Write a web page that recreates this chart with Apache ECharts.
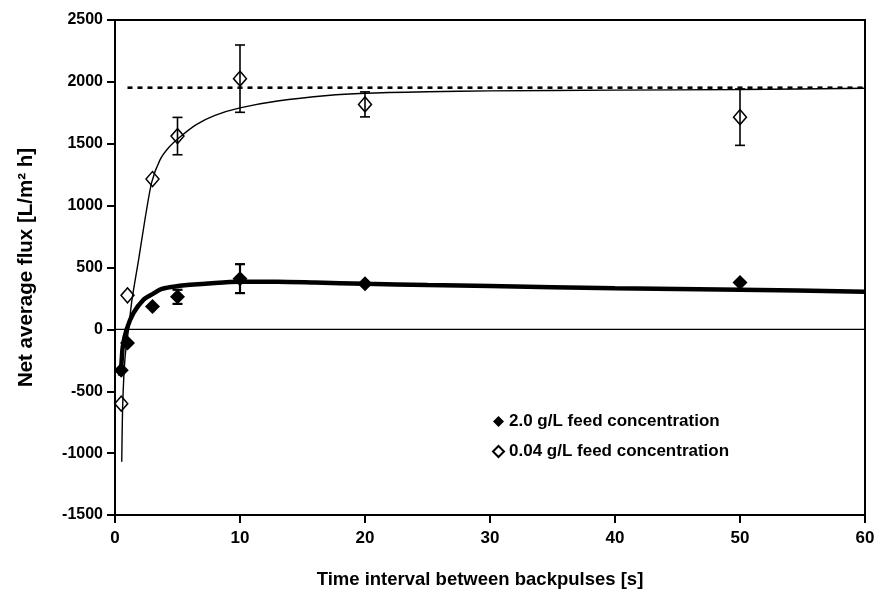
<!DOCTYPE html>
<html>
<head>
<meta charset="utf-8">
<script src="https://cdn.jsdelivr.net/npm/echarts@6/dist/echarts.min.js"></script>
<style>
html,body{margin:0;padding:0;background:#fff;}
#chart{width:876px;height:594px;}
</style>
</head>
<body>
<div id="chart"></div>
<script>
// ---- data ----
const xTicks = [0, 10, 20, 30, 40, 50, 60];
const yTicks = [-1500, -1000, -500, 0, 500, 1000, 1500, 2000, 2500];

const nameFilled = '2.0 g/L feed concentration';
const nameOpen = '0.04 g/L feed concentration';

// measured points, 2.0 g/L (filled diamonds)
const timeFilled = [0.5, 1, 3, 5, 10, 20, 50];
const fluxFilled = [-330, -110, 185, 263, 410, 368, 378];
const errFilled  = [0, 0, 0, 57, 117, 0, 0];

// measured points, 0.04 g/L (open diamonds)
const timeOpen = [0.5, 1, 3, 5, 10, 20, 50];
const fluxOpen = [-600, 275, 1215, 1562, 2026, 1818, 1715];
const errOpen  = [0, 0, 0, 151, 272, 101, 228];

// fitted curve, 2.0 g/L (thick line)
const fitFilledT = [0.4, 0.5, 0.62, 0.93, 1.47, 2.27, 3.0, 3.6, 4.5, 6, 8, 10, 13, 16, 20, 25, 30, 40, 50, 60];
const fitFilledJ = [-375, -300, -140, 0, 131, 239, 285, 322, 342, 360, 375, 384, 385, 378, 368, 358, 350, 333, 320, 305];

// fitted curve, 0.04 g/L (thin line)
const fitOpenT = [0.54, 0.62, 0.8, 1.08, 1.36, 1.9, 2.4, 2.94, 3.6, 4.3, 5.2, 6.5, 8, 10, 13, 17, 20, 25, 30, 40, 50, 60];
const fitOpenJ = [-1070, -600, -230, 0, 240, 570, 890, 1190, 1370, 1470, 1555, 1655, 1730, 1790, 1845, 1890, 1908, 1920, 1927, 1933, 1938, 1948];

// horizontal dashed asymptote and zero line
const dashT = [1, 60];
const dashJ = [1953, 1953];
const zeroT = [0, 60];
const zeroJ = [0, 0];

const pair = (xs, ys) => xs.map((x, i) => [x, ys[i]]);
const errData = (xs, ys, es) => xs.map((x, i) => [x, ys[i], es[i]]).filter(d => d[2] > 0);

const FONT = '"Liberation Sans", Arial, sans-serif';

function errRender(lw, capHalf) {
  return function (params, api) {
    const x = api.value(0), y = api.value(1), e = api.value(2);
    const hi = api.coord([x, y + e]);
    const lo = api.coord([x, y - e]);
    const st = { stroke: '#000', lineWidth: lw };
    return {
      type: 'group',
      children: [
        { type: 'line', shape: { x1: hi[0], y1: hi[1], x2: lo[0], y2: lo[1] }, style: st },
        { type: 'line', shape: { x1: hi[0] - capHalf, y1: hi[1], x2: hi[0] + capHalf, y2: hi[1] }, style: st },
        { type: 'line', shape: { x1: lo[0] - capHalf, y1: lo[1], x2: lo[0] + capHalf, y2: lo[1] }, style: st }
      ]
    };
  };
}

const chart = echarts.init(document.getElementById('chart'), null, { renderer: 'canvas' });
chart.setOption({
  animation: false,
  backgroundColor: '#fff',
  grid: {
    left: 115, right: 11, top: 20, bottom: 79,
    containLabel: false, outerBoundsMode: 'none',
    show: true, borderColor: '#000', borderWidth: 2, backgroundColor: 'transparent'
  },
  legend: {
    data: [
      { name: nameFilled, icon: 'diamond' },
      { name: nameOpen, icon: 'diamond' }
    ],
    orient: 'vertical',
    left: 487, top: 408,
    itemWidth: 11, itemHeight: 11, itemGap: 13,
    textStyle: { fontFamily: FONT, fontWeight: 'bold', fontSize: 17, color: '#000' },
    selectedMode: false
  },
  xAxis: {
    type: 'value', min: 0, max: 60, interval: 10,
    name: 'Time interval between backpulses [s]',
    nameLocation: 'middle', nameGap: 55,
    nameTextStyle: { fontFamily: FONT, fontWeight: 'bold', fontSize: 18.5, color: '#000', padding: [0, 20, 0, 0] },
    axisLine: { show: true, onZero: false, lineStyle: { color: '#000', width: 2 } },
    axisTick: { show: true, inside: false, length: 8, lineStyle: { color: '#000', width: 2 } },
    axisLabel: {
      margin: 15, fontFamily: FONT, fontWeight: 'bold', fontSize: 17, color: '#000',
      formatter: v => xTicks.includes(v) ? String(v) : ''
    },
    splitLine: { show: false }
  },
  yAxis: {
    type: 'value', min: -1500, max: 2500, interval: 500,
    name: 'Net average flux [L/m\u00B2 h]',
    nameLocation: 'middle', nameGap: 78,
    nameTextStyle: { fontFamily: FONT, fontWeight: 'bold', fontSize: 20.5, color: '#000' },
    axisLine: { show: true, onZero: false, lineStyle: { color: '#000', width: 2 } },
    axisTick: { show: true, inside: false, length: 8, lineStyle: { color: '#000', width: 2 } },
    axisLabel: {
      margin: 12, fontFamily: FONT, fontWeight: 'bold', fontSize: 16, color: '#000',
      formatter: v => yTicks.includes(v) ? String(v) : ''
    },
    splitLine: { show: false }
  },
  series: [
    {
      name: 'zero', type: 'line', data: pair(zeroT, zeroJ), symbol: 'none', silent: true,
      lineStyle: { color: '#000', width: 1.3 }, z: 1
    },
    {
      name: 'asymptote', type: 'line', data: pair(dashT, dashJ), symbol: 'none', silent: true,
      lineStyle: { color: '#000', width: 2.6, type: [5, 5] }, z: 2
    },
    {
      name: 'fitOpen', type: 'line', data: pair(fitOpenT, fitOpenJ), symbol: 'none', smooth: 0.25, silent: true,
      lineStyle: { color: '#000', width: 1.4 }, z: 3
    },
    {
      name: 'fitFilled', type: 'line', data: pair(fitFilledT, fitFilledJ), symbol: 'none', smooth: 0.25, silent: true,
      lineStyle: { color: '#000', width: 4.5 }, z: 3
    },
    {
      name: 'errOpen', type: 'custom', data: errData(timeOpen, fluxOpen, errOpen),
      renderItem: errRender(1.6, 5), z: 6, silent: true
    },
    {
      name: 'errFilled', type: 'custom', data: errData(timeFilled, fluxFilled, errFilled),
      renderItem: errRender(2.2, 5), z: 6, silent: true
    },
    {
      name: nameFilled, type: 'scatter', data: pair(timeFilled, fluxFilled),
      symbol: 'diamond', symbolSize: [15, 15],
      itemStyle: { color: '#000', borderColor: '#000', borderWidth: 0, opacity: 1 }, z: 5
    },
    {
      name: nameOpen, type: 'scatter', data: pair(timeOpen, fluxOpen),
      symbol: 'diamond', symbolSize: [13, 15],
      itemStyle: { color: 'rgba(255,255,255,0)', borderColor: '#000', borderWidth: 1.5, opacity: 1 }, z: 5
    }
  ]
});
</script>
</body>
</html>
